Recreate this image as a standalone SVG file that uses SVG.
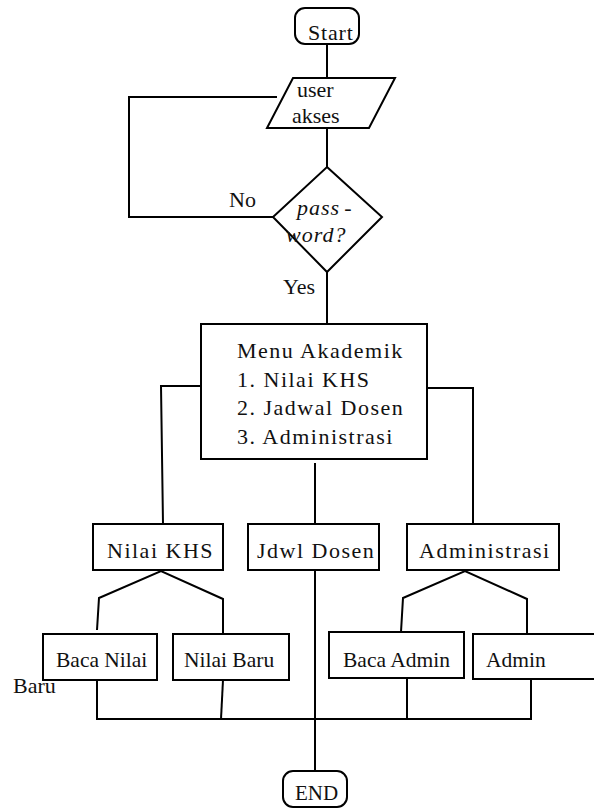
<svg xmlns="http://www.w3.org/2000/svg" width="594" height="808" viewBox="0 0 594 808">
  <style>
    .shape { fill: #ffffff; stroke: #000000; stroke-width: 2; }
    .wire { fill: none; stroke: #000000; stroke-width: 2; stroke-linejoin: miter; }
    .txt text { fill: #111111; }
    .t22 { font-size: 22px; }
    .wide { font-size: 22px; letter-spacing: 1.5px; }
    .small { font-size: 21.5px; }
    .ital { font-size: 22px; font-style: italic; letter-spacing: 1px; }
  </style>
  <rect width="594" height="808" fill="#ffffff"/>

  <!-- connectors -->
  <g id="connectors" class="wire">
    <line x1="327" y1="44" x2="327" y2="78"/>
    <line x1="327" y1="128" x2="327" y2="167"/>
    <!-- "No" loop back to the input -->
    <polyline points="273,217 129,217 129,97 277,97"/>
    <line x1="327" y1="272" x2="327" y2="324"/>
    <!-- menu branches -->
    <polyline points="201,386 161,386 163,524"/>
    <polyline points="427,388 473,388 473,524"/>
    <line x1="315" y1="463" x2="315" y2="524"/>
    <!-- Nilai KHS split -->
    <polyline points="97,630 99,598 161,571 223,599 223,634"/>
    <!-- Administrasi split -->
    <polyline points="401,632 403,598 465,571 527,599 527,634"/>
    <!-- merge to END -->
    <polyline points="97,680 97,719 531,719 531,679"/>
    <line x1="221" y1="719" x2="223" y2="680"/>
    <line x1="407" y1="678" x2="407" y2="719"/>
    <line x1="315" y1="570" x2="315" y2="772"/>
  </g>

  <g class="txt" font-family="Liberation Serif, DejaVu Serif, serif">
    <g id="start">
      <rect class="shape" x="295" y="8" width="64" height="36" rx="10"/>
      <text class="t22" x="308" y="40" letter-spacing="0.8">Start</text>
    </g>

    <g id="user-akses">
      <polygon class="shape" points="293,78 395,78 369,128 267,128"/>
      <text class="t22" x="297" y="97">user</text>
      <text class="t22" x="292" y="123">akses</text>
    </g>

    <g id="password">
      <polygon class="shape" points="327,167 382,217 327,272 273,217"/>
      <text class="ital" x="297" y="215">pass<tspan dx="4">-</tspan></text>
      <text class="ital" x="286" y="242">word?</text>
    </g>

    <g id="labels">
      <text class="t22" x="229" y="207">No</text>
      <text class="t22" x="283" y="294">Yes</text>
      <text class="t22" x="13" y="693">Baru</text>
    </g>

    <g id="menu-akademik">
      <rect class="shape" x="201" y="324" width="226" height="135"/>
      <text class="wide" x="237" y="358">Menu Akademik</text>
      <text class="wide" x="237" y="387">1. Nilai KHS</text>
      <text class="wide" x="237" y="415">2. Jadwal Dosen</text>
      <text class="wide" x="237" y="444">3. Administrasi</text>
    </g>

    <g id="nilai-khs">
      <rect class="shape" x="93" y="524" width="130" height="46"/>
      <text class="wide" x="107" y="558">Nilai KHS</text>
    </g>

    <g id="jdwl-dosen">
      <rect class="shape" x="248" y="524" width="131" height="46"/>
      <text class="wide" x="257" y="558">Jdwl Dosen</text>
    </g>

    <g id="administrasi">
      <rect class="shape" x="407" y="524" width="152" height="46"/>
      <text class="wide" x="419" y="558">Administrasi</text>
    </g>

    <g id="baca-nilai">
      <rect class="shape" x="43" y="634" width="114" height="46"/>
      <text class="small" x="56" y="667">Baca Nilai</text>
    </g>

    <g id="nilai-baru">
      <rect class="shape" x="173" y="634" width="116" height="46"/>
      <text class="small" x="184" y="667">Nilai Baru</text>
    </g>

    <g id="baca-admin">
      <rect class="shape" x="329" y="632" width="135" height="46"/>
      <text class="small" x="343" y="667">Baca Admin</text>
    </g>

    <g id="admin">
      <rect class="shape" x="473" y="634" width="130" height="45"/>
      <text class="small" x="486" y="667">Admin</text>
    </g>

    <g id="end">
      <rect class="shape" x="283" y="771" width="64" height="36" rx="10"/>
      <text x="295" y="800" font-size="21">END</text>
    </g>
  </g>
</svg>
